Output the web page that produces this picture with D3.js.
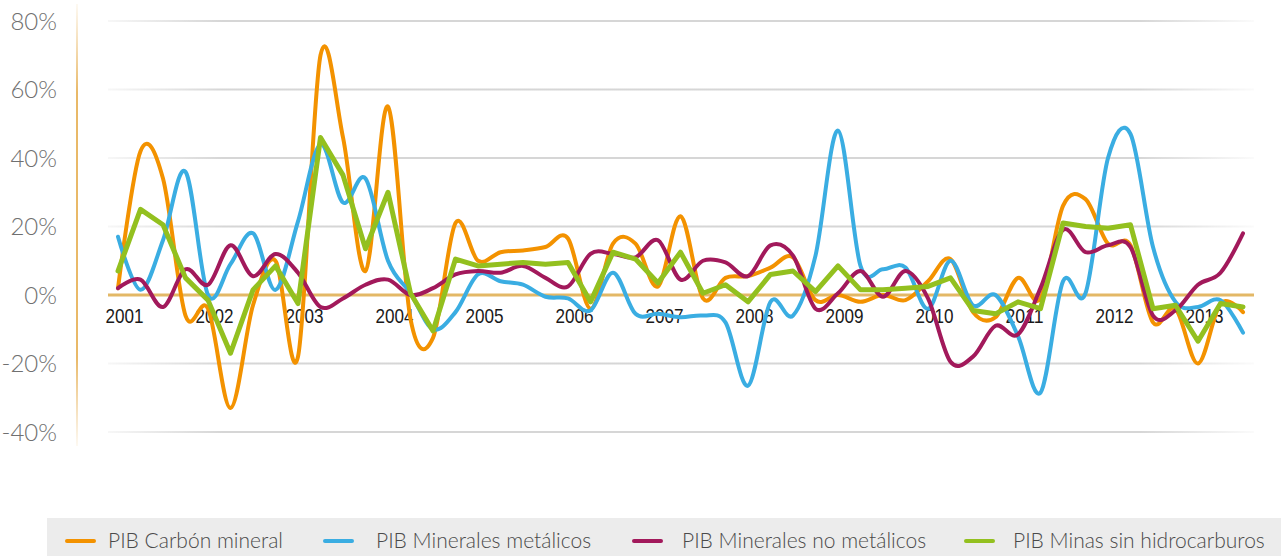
<!DOCTYPE html>
<html>
<head>
<meta charset="utf-8">
<script src="https://cdn.jsdelivr.net/npm/d3@7"></script>
<style>
  body { margin: 0; background: #fff; }
  svg { display: block; }
</style>
</head>
<body>
<svg id="chart" width="1281" height="556"></svg>
<script>
// trimestres 2001-T1 .. 2013-T3
const years = ['2001', '2002', '2003', '2004', '2005', '2006', '2007', '2008', '2009', '2010', '2011', '2012', '2013'];
const periods = years.flatMap(yr => ['T1', 'T2', 'T3', 'T4'].map(q => yr + '-' + q)).slice(0, 51);

const yTicks = [80, 60, 40, 20, 0, -20, -40];

const carbonMineral = [2, 42, 34, -6, -4, -33, -3, 10, -18, 70, 46, 7, 55, -7, -12.5, 21, 10, 12.5, 13, 14,
  16.5, -4, 15, 15, 2.5, 23, -1, 5, 5.5, 8, 11, -1.5, 0, -2, 0, -1.5, 4, 10.5, -5, -6.5,
  5, -1, 26, 28, 15, 14.5, -8, -4, -20, -2.5, -5];
const mineralesMetalicos = [17, 1.5, 16, 36, 0, 9, 18, 1.5, 21.5, 44, 27, 34, 10, 0.5, -10, -5, 6, 4, 3, -0.5,
  -1, -4.5, 6.5, -5.5, -5.5, -6.5, -6, -8, -26.5, -2, -6, 11.5, 48, 8.5, 7.5, 8, -4, 10, -3, 0,
  -12, -28.5, 4, 0.5, 40, 47, 14, -2, -3.5, -1.5, -11];
const mineralesNoMetalicos = [2, 4.5, -3.5, 7.5, 3, 14.5, 5.5, 12, 6.5, -3.5, -1, 3, 4.5, 0, 2, 6, 7, 6.5, 8.5, 5,
  2.5, 12, 12, 11, 16, 4.5, 10, 9.5, 5.5, 14.5, 11.5, -4, 0.5, 7, -0.5, 7, -1, -19.5, -18, -9,
  -11.5, 2, 19, 12.5, 14.5, 14, -6, -4.5, 3, 6.5, 18];
const minasSinHidrocarburos = [7, 25, 20.5, 5, -1.5, -17, 1.5, 8.5, -2.5, 46, 35, 13.5, 30, 0.5, -10.5, 10.5, 8.5, 9, 9.5, 9,
  9.5, -2, 12.5, 10.5, 3.5, 12.5, 0.5, 3, -2, 6, 7, 1, 8.5, 1.5, 1.5, 2, 2.5, 5, -4.5, -5.5,
  -2, -4, 21, 20, 19.5, 20.5, -4, -3, -13.5, -2.5, -3.5];

const seriesNames = ['PIB Carbón mineral', 'PIB Minerales metálicos', 'PIB Minerales no metálicos', 'PIB Minas sin hidrocarburos'];
const seriesColors = ['#f39200', '#3aade2', '#a2195b', '#93c01f'];

const series = [
  { name: seriesNames[0], values: carbonMineral, color: seriesColors[0], smooth: true, width: 4 },
  { name: seriesNames[1], values: mineralesMetalicos, color: seriesColors[1], smooth: true, width: 4 },
  { name: seriesNames[2], values: mineralesNoMetalicos, color: seriesColors[2], smooth: true, width: 4 },
  { name: seriesNames[3], values: minasSinHidrocarburos, color: seriesColors[3], smooth: false, width: 5 }
];

const svg = d3.select('#chart');

const x = d3.scaleLinear().domain([0, periods.length - 1]).range([118, 1243]);
const y = d3.scaleLinear().domain([-40, 80]).range([432, 21]);

// gradients
const defs = svg.append('defs');
const gridFade = defs.append('linearGradient')
  .attr('id', 'gridFade')
  .attr('gradientUnits', 'userSpaceOnUse')
  .attr('x1', 108).attr('x2', 1254).attr('y1', 0).attr('y2', 0);
gridFade.append('stop').attr('offset', 0).attr('stop-color', '#d6d6d6').attr('stop-opacity', 0.2);
gridFade.append('stop').attr('offset', 0.1).attr('stop-color', '#d6d6d6').attr('stop-opacity', 1);
gridFade.append('stop').attr('offset', 0.9).attr('stop-color', '#d6d6d6').attr('stop-opacity', 1);
gridFade.append('stop').attr('offset', 1).attr('stop-color', '#d6d6d6').attr('stop-opacity', 0.1);

const axisFade = defs.append('linearGradient')
  .attr('id', 'axisFade')
  .attr('gradientUnits', 'userSpaceOnUse')
  .attr('x1', 0).attr('x2', 0).attr('y1', 4).attr('y2', 446);
axisFade.append('stop').attr('offset', 0).attr('stop-color', '#edc27a').attr('stop-opacity', 0.1);
axisFade.append('stop').attr('offset', 0.2).attr('stop-color', '#e9b968').attr('stop-opacity', 1);
axisFade.append('stop').attr('offset', 0.8).attr('stop-color', '#e9b968').attr('stop-opacity', 1);
axisFade.append('stop').attr('offset', 1).attr('stop-color', '#edc27a').attr('stop-opacity', 0.1);

// grid lines
svg.append('g')
  .selectAll('line')
  .data(yTicks.filter(t => t !== 0))
  .join('line')
  .attr('x1', 108)
  .attr('x2', 1254)
  .attr('y1', d => y(d))
  .attr('y2', d => y(d))
  .attr('stroke', 'url(#gridFade)')
  .attr('stroke-width', 2);

// y labels
svg.append('g')
  .selectAll('text')
  .data(yTicks)
  .join('text')
  .attr('x', 57)
  .attr('y', d => y(d))
  .attr('dy', '0.36em')
  .attr('text-anchor', 'end')
  .attr('font-family', 'Lato, sans-serif')
  .attr('font-weight', 300)
  .attr('font-size', 24)
  .attr('fill', '#707070')
  .text(d => d + '%');

// left axis line
svg.append('line')
  .attr('x1', 77).attr('x2', 77)
  .attr('y1', 4).attr('y2', 446)
  .attr('stroke', 'url(#axisFade)')
  .attr('stroke-width', 2);

// zero line
svg.append('line')
  .attr('x1', 108).attr('x2', 1254)
  .attr('y1', y(0)).attr('y2', y(0))
  .attr('stroke', '#e3b866')
  .attr('stroke-width', 3);

// year labels
svg.append('g')
  .selectAll('text')
  .data(years)
  .join('text')
  .attr('x', (d, i) => x(i * 4 + 0.29))
  .attr('y', 323)
  .attr('text-anchor', 'middle')
  .attr('font-family', 'Liberation Sans, Arial, sans-serif')
  .attr('font-size', 21)
  .attr('textLength', 38)
  .attr('lengthAdjust', 'spacingAndGlyphs')
  .attr('fill', '#1a1a1a')
  .text(d => d);

// series
const smoothLine = d3.line()
  .x((d, i) => x(i))
  .y(d => y(d))
  .curve(d3.curveCardinal.tension(0));
const straightLine = d3.line()
  .x((d, i) => x(i))
  .y(d => y(d));

series.forEach(s => {
  svg.append('path')
    .datum(s.values)
    .attr('d', s.smooth ? smoothLine : straightLine)
    .attr('fill', 'none')
    .attr('stroke', s.color)
    .attr('stroke-width', s.width)
    .attr('stroke-linejoin', 'round')
    .attr('stroke-linecap', 'round');
});

// legend
const legendLineX = [67, 325, 634, 966];
const legendTextX = [108, 376, 682, 1013];

svg.append('rect')
  .attr('x', 47).attr('y', 518)
  .attr('width', 1234).attr('height', 38)
  .attr('fill', '#ececec');

const legend = svg.append('g')
  .selectAll('g')
  .data(series)
  .join('g');

legend.append('line')
  .attr('x1', (d, i) => legendLineX[i])
  .attr('x2', (d, i) => legendLineX[i] + 27)
  .attr('y1', 541).attr('y2', 541)
  .attr('stroke', d => d.color)
  .attr('stroke-width', 4)
  .attr('stroke-linecap', 'round');

legend.append('text')
  .attr('x', (d, i) => legendTextX[i])
  .attr('y', 548)
  .attr('font-family', 'Lato, sans-serif')
  .attr('font-weight', 300)
  .attr('font-size', 21)
  .attr('fill', '#4a4a4a')
  .text(d => d.name);
</script>
</body>
</html>
